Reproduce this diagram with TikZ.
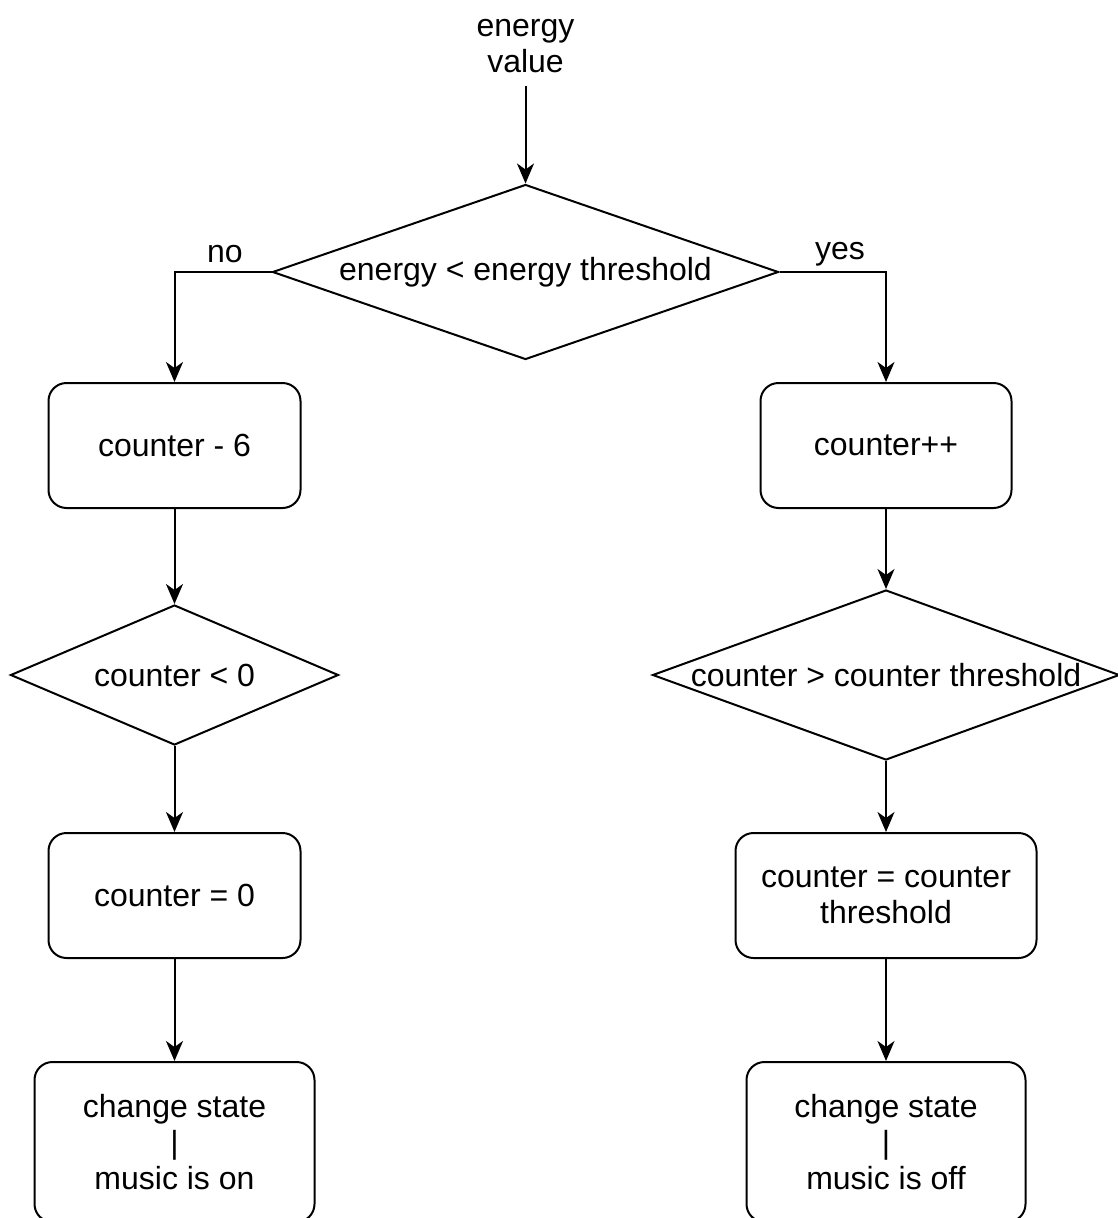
\documentclass[tikz,border=0pt]{standalone}
\usepackage{fontspec}
\setmainfont{Liberation Sans}
\usetikzlibrary{shapes.geometric,arrows.meta}

\begin{document}
\begin{tikzpicture}[x=1pt,y=-1pt,
  every node/.style={font=\fontsize{32}{36}\selectfont},
  proc/.style={draw, rounded corners=18pt, line width=2pt,
    minimum height=125pt, inner sep=0pt, align=center},
  decision/.style={draw, diamond, line width=2pt, inner sep=0pt},
  plain/.style={inner sep=0pt, align=center},
  flow/.style={line width=2pt, -{Stealth[length=20pt,width=17pt,inset=6pt]}}
]
\useasboundingbox (0,0) rectangle (1118,1218);

% input
\node[plain, inner sep=13pt] (ev) at (525.5,46) {energy\\value};

% top decision
\node[decision, minimum width=506pt, minimum height=175pt] (d1) at (525.5,272)
  {\makebox[0pt]{\raisebox{-3pt}{energy < energy threshold}}};
\node[plain] (no) at (225,254) {no};
\node[plain] (yes) at (840,254) {yes};

% left branch
\node[proc, minimum width=252pt] (b1) at (174.5,445.5) {\raisebox{-3pt}{counter - 6}};
\node[decision, minimum width=328pt, minimum height=140pt] (d2) at (174.5,675)
  {\makebox[0pt]{\raisebox{-3pt}{counter < 0}}};
\node[proc, minimum width=252pt] (b3) at (174.5,895.5) {\raisebox{-3pt}{counter = 0}};
\node[proc, minimum width=280pt, minimum height=160pt] (b5) at (174.5,1142)
  {change state\\|\\music is on};

% right branch
\node[proc, minimum width=251pt] (b2) at (886,445.5) {\raisebox{-3pt}{counter++}};
\node[decision, minimum width=467pt, minimum height=170pt] (d3) at (886,675)
  {\makebox[0pt]{\raisebox{-3pt}{counter > counter threshold}}};
\node[proc, minimum width=301pt] (b4) at (886,895.5) {counter = counter\\threshold};
\node[proc, minimum width=279pt, minimum height=160pt] (b6) at (886,1142)
  {change state\\|\\music is off};

% connectors
\draw[flow] (ev.south) -- (d1.north);
\draw[flow] (d1.west) -| (b1.north);
\draw[flow] (d1.east) -| (b2.north);
\draw[flow] (b1) -- (d2);
\draw[flow] (d2) -- (b3);
\draw[flow] (b3) -- (b5);
\draw[flow] (b2) -- (d3);
\draw[flow] (d3) -- (b4);
\draw[flow] (b4) -- (b6);
\end{tikzpicture}
\end{document}
